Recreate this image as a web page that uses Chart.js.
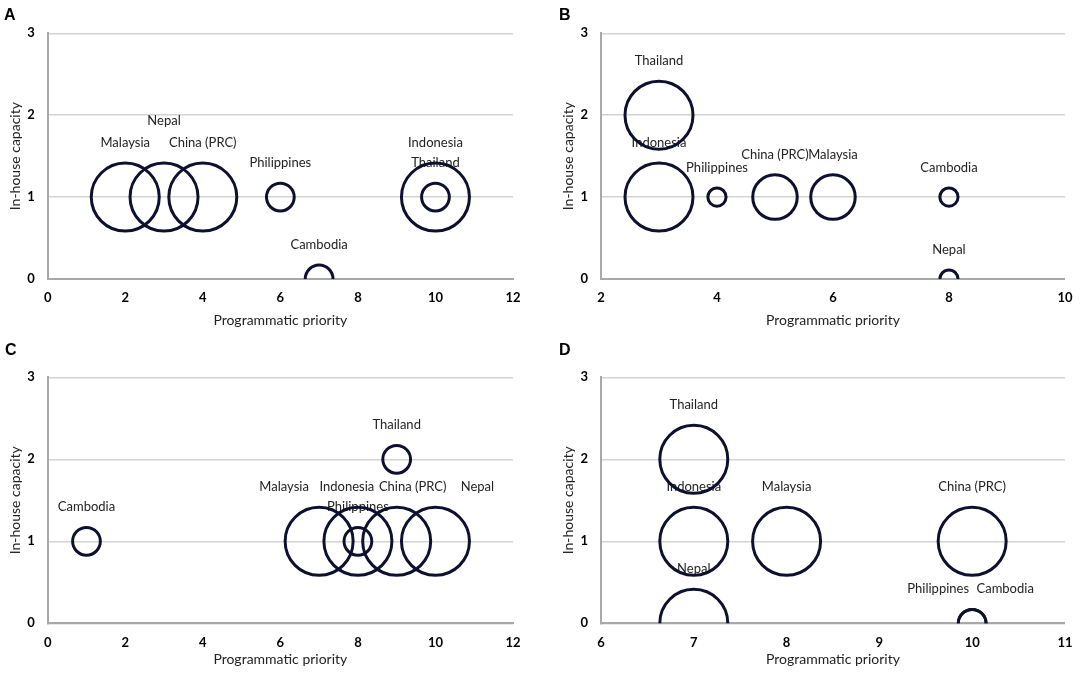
<!DOCTYPE html>
<html><head><meta charset="utf-8">
<script src="https://cdn.jsdelivr.net/npm/chart.js@4/dist/chart.umd.min.js"></script>
<style>
html,body{margin:0;padding:0;background:#fff;overflow:hidden;}
#wrap{position:relative;width:1084px;height:679px;overflow:hidden;background:#fff;}
.panel{position:absolute;}
.panel canvas{display:block;}
.letter{position:absolute;font:bold 16px "Liberation Sans",Arial,sans-serif;line-height:16px;color:#000;}
</style></head><body>
<div id="wrap">
  <div class="panel" style="left:0;top:0;width:540px;height:340px"><canvas id="cA"></canvas></div>
  <div class="panel" style="left:540px;top:0;width:544px;height:340px"><canvas id="cB"></canvas></div>
  <div class="panel" style="left:0;top:340px;width:540px;height:339px"><canvas id="cC"></canvas></div>
  <div class="panel" style="left:540px;top:340px;width:544px;height:339px"><canvas id="cD"></canvas></div>
  <div class="letter" style="left:4px;top:7px">A</div>
  <div class="letter" style="left:559px;top:7px">B</div>
  <div class="letter" style="left:5px;top:342px">C</div>
  <div class="letter" style="left:559px;top:342px">D</div>
</div>
<script>
// ---------- DATA ----------
const countriesA = ['Malaysia','Nepal','China (PRC)','Philippines','Cambodia','Indonesia','Thailand'];
const priorityA  = [2, 3, 4, 6, 7, 10, 10];
const capacityA  = [1, 1, 1, 1, 0, 1, 1];
const sizeA      = [6, 6, 6, 1, 1, 6, 1];

const countriesB = ['Thailand','Indonesia','Philippines','China (PRC)','Malaysia','Cambodia','Nepal'];
const priorityB  = [3, 3, 4, 5, 6, 8, 8];
const capacityB  = [2, 1, 1, 1, 1, 1, 0];
const sizeB      = [14, 14, 1, 6, 6, 1, 1];

const countriesC = ['Cambodia','Malaysia','Indonesia','Philippines','China (PRC)','Nepal','Thailand'];
const priorityC  = [1, 7, 8, 8, 9, 10, 9];
const capacityC  = [1, 1, 1, 1, 1, 1, 2];
const sizeC      = [1, 6, 6, 1, 6, 6, 1];

const countriesD = ['Thailand','Indonesia','Nepal','Malaysia','China (PRC)','Philippines','Cambodia'];
const priorityD  = [7, 7, 7, 8, 10, 10, 10];
const capacityD  = [2, 1, 0, 1, 1, 0, 0];
const sizeD      = [6, 6, 6, 6, 6, 1, 1];

const xRangeA = [0, 12, 2];
const xRangeB = [2, 10, 2];
const xRangeC = [0, 12, 2];
const xRangeD = [6, 11, 1];
const yRange  = [0, 3, 1];

const xTitle = 'Programmatic priority';
const yTitle = 'In-house capacity';

// ---------- STYLE ----------
const FONT = 'Lato, "Open Sans", sans-serif';
const BUBBLE_COLOR = '#0e1030';
const MAX_R = 34;
// manual label nudges (pixels), as in the original figure
const labelNudge = {
  A: {'Nepal': [0, -22]},
  B: {},
  C: {'Malaysia': [-35, 0], 'Indonesia': [-11, 0], 'China (PRC)': [16, 0], 'Nepal': [42, 0]},
  D: {'Philippines': [-34, 0], 'Cambodia': [33, 0]}
};
// target chart area inside each canvas: [left, top, right, bottom]
const areas = {
  A: [47.7, 33.3, 513, 279],
  B: [61, 33.3, 526, 279],
  C: [47.7, 37.3, 513, 283.3],
  D: [61, 37.3, 526, 283.3]
};

const labelPlugin = {
  id: 'bubbleLabels',
  beforeDatasetsDraw(chart, args, opts) {
    const ctx = chart.ctx;
    const meta = chart.getDatasetMeta(0);
    const names = chart.data.datasets[0].names;
    ctx.save();
    ctx.font = '13px ' + FONT;
    ctx.fillStyle = '#222';
    ctx.textAlign = 'center';
    ctx.textBaseline = 'middle';
    meta.data.forEach((el, i) => {
      const r = el.options.radius + el.options.borderWidth / 2;
      const n = (opts.nudge || {})[names[i]] || [0, 0];
      ctx.fillText(names[i], el.x + n[0], el.y - r - 19 + n[1]);
    });
    ctx.restore();
  }
};

function makeChart(id, key, names, xs, ys, sizes, xr) {
  const maxS = Math.max(...sizes);
  const [L, T, R, B] = areas[key];
  const canvas = document.getElementById(id);
  const W = canvas.parentNode.clientWidth, H = canvas.parentNode.clientHeight;
  const YW = 42;
  return new Chart(canvas, {
    type: 'bubble',
    data: {
      datasets: [{
        names: names,
        data: xs.map((x, i) => ({x: x, y: ys[i], s: sizes[i]})),
        radius: ctx => MAX_R * Math.sqrt(ctx.raw.s / maxS),
        backgroundColor: 'rgba(0,0,0,0)',
        borderColor: BUBBLE_COLOR,
        borderWidth: 3,
        hoverBorderWidth: 3
      }]
    },
    options: {
      responsive: true,
      maintainAspectRatio: false,
      animation: false,
      events: [],
      layout: {autoPadding: false, padding: {left: L - YW, top: T, right: W - R, bottom: 0}},
      plugins: {legend: {display: false}, tooltip: {enabled: false}, bubbleLabels: {nudge: labelNudge[key]}},
      scales: {
        x: {
          type: 'linear', min: xr[0], max: xr[1],
          afterFit: s => { s.height = H - B; },
          ticks: {stepSize: xr[2], padding: 11.5, color: '#000', font: {family: FONT, size: 13, weight: 'bold'}},
          grid: {display: false, drawTicks: false},
          border: {display: true, color: '#a8a8a8', width: 2},
          title: {display: true, text: xTitle, color: '#222', font: {family: FONT, size: 14}, padding: {top: 0, bottom: 11.5}}
        },
        y: {
          type: 'linear', min: yRange[0], max: yRange[1],
          afterFit: s => { s.width = YW; },
          ticks: {stepSize: yRange[2], padding: 13, color: '#000', font: {family: FONT, size: 13, weight: 'bold'}},
          grid: {color: '#d4d4d4', lineWidth: 1.5, drawTicks: false},
          border: {display: true, color: '#a8a8a8', width: 2},
          title: {display: true, text: yTitle, color: '#222', font: {family: FONT, size: 14}, padding: {top: 1.5, bottom: 0}}
        }
      }
    },
    plugins: [labelPlugin]
  });
}

makeChart('cA', 'A', countriesA, priorityA, capacityA, sizeA, xRangeA);
makeChart('cB', 'B', countriesB, priorityB, capacityB, sizeB, xRangeB);
makeChart('cC', 'C', countriesC, priorityC, capacityC, sizeC, xRangeC);
makeChart('cD', 'D', countriesD, priorityD, capacityD, sizeD, xRangeD);
</script>
</body></html>
